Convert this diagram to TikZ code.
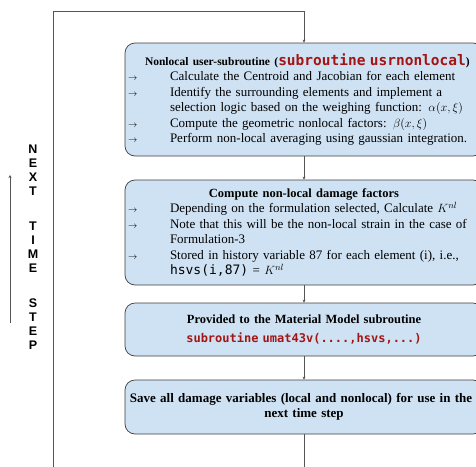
\documentclass[tikz,border=0pt]{standalone}
\usepackage{fontspec}
\setmainfont{Liberation Serif}
\setsansfont{Liberation Sans}
\setmonofont{DejaVu Sans Mono}
\usepackage{amsmath}
\usetikzlibrary{arrows.meta, positioning}
\definecolor{boxfill}{HTML}{CFE2F3}
\definecolor{boxline}{HTML}{3D3D3D}
\definecolor{flowgray}{HTML}{555555}
\definecolor{codered}{HTML}{A31515}

\newcommand{\redcode}[2][14.5pt]{{\fontsize{#1}{15.5pt}\selectfont\ttfamily\bfseries\color{codered}#2}}
\newcommand{\flowitem}[1]{\par\noindent\hangindent=43pt\hangafter=1\makebox[43pt][l]{\hspace{1pt}\fontsize{9}{9}\selectfont$\rightarrow$}#1\par}

\begin{document}
\begin{tikzpicture}[
    x=1pt, y=-1pt,
    stage/.style={rectangle, rounded corners=10pt, draw=boxline, line width=0.7pt, fill=boxfill, minimum width=358pt, text width=354pt, inner xsep=2pt, align=left, font=\fontsize{13}{15.5}\selectfont},
    flow/.style={-{Stealth[length=3pt, width=3pt]}, line width=0.6pt, color=flowgray}
]
\useasboundingbox (0,0) rectangle (476,466);

% Stages of the time step
\node[stage, minimum height=113pt] (nonlocal) at (304,99.5) {%
\hspace*{18pt}{\fontsize{11.5}{15.5}\selectfont\textbf{Nonlocal user-subroutine (}\redcode{subroutine usrnonlocal}\textbf{)}}\par
\flowitem{Calculate the Centroid and Jacobian for each element}
\flowitem{Identify the surrounding elements and implement a\newline selection logic based on the weighing function: $\alpha(x,\xi)$}
\flowitem{Compute the geometric nonlocal factors: $\beta(x,\xi)$}
\flowitem{Perform non-local averaging using gaussian integration.}};

\node[stage, minimum height=105pt] (damage) at (304,232.5) {%
{\centering\fontsize{12.5}{15.5}\selectfont\textbf{Compute non-local damage factors}\par}
\flowitem{Depending on the formulation selected, Calculate $K^{nl}$}
\flowitem{Note that this will be the non-local strain in the case of\newline Formulation-3}
\flowitem{Stored in history variable 87 for each element (i), i.e.,\newline {\fontsize{13}{15.5}\selectfont\ttfamily hsvs(i,87)} = $K^{nl}$}};

\node[stage, minimum height=53pt, align=center, font=\fontsize{12.5}{15.5}\selectfont] (umat) at (304,329.5) {%
\textbf{Provided to the Material Model subroutine}\\[4pt]
\redcode[12pt]{subroutine umat43v(....,hsvs,...)}};

\node[stage, minimum height=54pt, align=center, font=\fontsize{13}{15.5}\selectfont] (save) at (304,407) {%
\hspace*{-6pt}\textbf{Save all damage variables (local and nonlocal) for use in the}\\
\textbf{next time step}};

\draw[flow] (nonlocal.south) -- (damage.north);
\draw[flow] (damage.south) -- (umat.north);
\draw[flow] (umat.south) -- (save.north);

% Loop back to the next time step
\coordinate (loopbot) at (304,480);
\coordinate (looptop) at (53,11);
\draw[flow] (save.south) -- (loopbot) -| (looptop) -| (nonlocal.north);

% Side label
\node[font=\sffamily\bfseries\fontsize{12.5}{14}\selectfont, align=center] (nextstep) at (33,247.5)
    {N\\E\\X\\T\\[21pt]T\\I\\M\\E\\[21pt]S\\T\\E\\P};
\coordinate (tailpt) at (10,323);
\coordinate (headpt) at (10,175);
\draw[flow] (tailpt) -- (headpt);

\end{tikzpicture}
\end{document}
